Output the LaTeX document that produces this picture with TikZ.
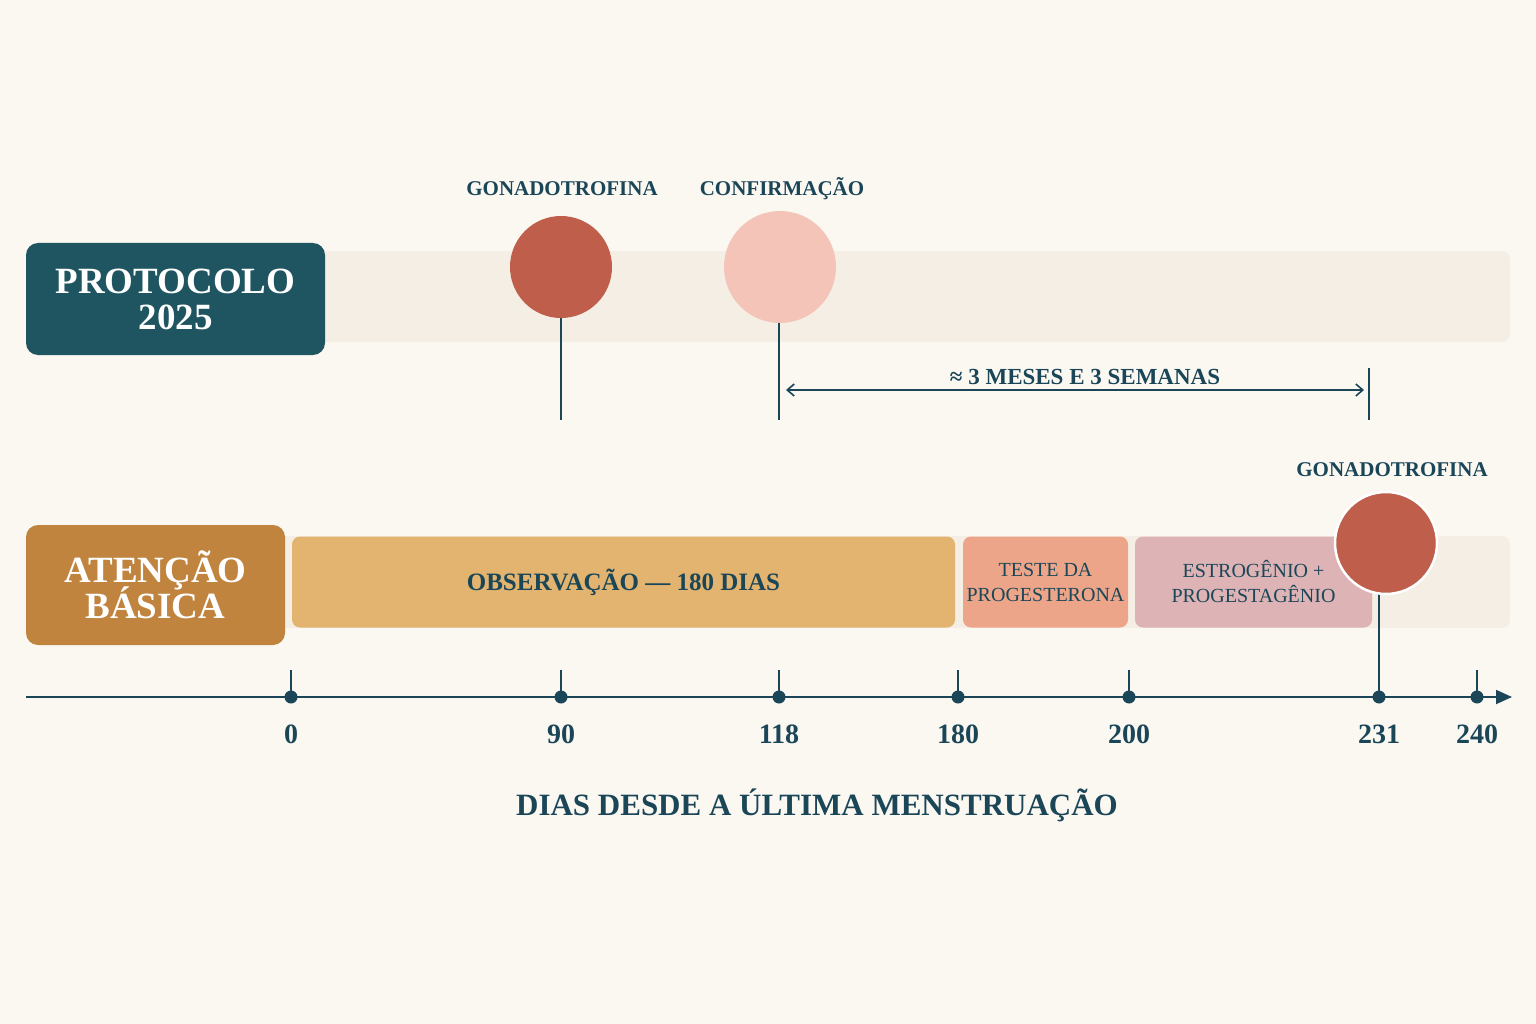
\documentclass[tikz,border=0pt]{standalone}
\usepackage{fontspec}
\setmainfont{Liberation Serif}
\usetikzlibrary{arrows.meta}
\definecolor{bg}{HTML}{FBF8F2}
\definecolor{band}{HTML}{F4EEE4}
\definecolor{teal}{HTML}{1F5560}
\definecolor{ink}{HTML}{1A4658}
\definecolor{brick}{HTML}{BE5E4B}
\definecolor{pinkc}{HTML}{F4C4B8}
\definecolor{ochre}{HTML}{C0843E}
\definecolor{obs}{HTML}{E3B470}
\definecolor{salmon}{HTML}{EDA589}
\definecolor{rose}{HTML}{DDB3B5}
\begin{document}
\begin{tikzpicture}[x=1pt,y=-1pt,
  lbl/.style={text=ink,font=\bfseries\fontsize{21}{24}\selectfont},
  tick/.style={text=ink,font=\bfseries\fontsize{28}{30}\selectfont},
  title/.style={rounded corners=12pt,text=white,align=center,font=\bfseries\fontsize{37}{40}\selectfont},
  seg/.style={rounded corners=8pt,align=center,text=ink},
  ln/.style={draw=ink,line width=1.8pt},
  dot/.style={circle,fill=ink,inner sep=0pt,minimum size=13pt}]
\fill[bg] (0,0) rectangle (1536,1024);
\useasboundingbox (0,0) rectangle (1536,1024);
% top band
\fill[band,rounded corners=8pt] (300,251) rectangle (1510,342);
\node[title,fill=teal,minimum width=299pt,minimum height=112pt] (prot) at (175.5,299) {PROTOCOLO\\[-4pt]2025};
% circles top
\draw[ln] (561,300) -- (561,420) coordinate (s1);
\node[circle,fill=brick,minimum size=102pt] (g1) at (561,267) {};
\node[lbl] (lg1) at (562,189) {GONADOTROFINA};
\draw[ln] (779,300) -- (779,420) coordinate (s2);
\node[circle,fill=pinkc,minimum size=112pt] (c1) at (780,267) {};
\node[lbl] (lc1) at (782,189) {CONFIRMAÇÃO};
\coordinate (e1) at (1369,368); \coordinate (e2) at (1369,420);
\draw[ln] (e1) -- (e2);
\coordinate (a1) at (786,390); \coordinate (a2) at (1364,390);
\draw[draw=ink,line width=1.6pt,{Straight Barb[length=7pt,width=12pt]}-{Straight Barb[length=7pt,width=12pt]}] (a1) -- (a2);
\node[lbl,font=\bfseries\fontsize{23}{26}\selectfont] (dur) at (1085,377) {≈ 3 MESES E 3 SEMANAS};
% bottom band
\fill[band,rounded corners=8pt] (270,536) rectangle (1510,628);
\node[title,fill=ochre,minimum width=259pt,minimum height=120pt] (aten) at (155.5,585) {ATENÇÃO\\[-4pt]BÁSICA};
\node[seg,fill=obs,minimum width=663pt,minimum height=91pt,font=\bfseries\fontsize{25}{28}\selectfont] (obsv) at (623.5,582) {OBSERVAÇÃO — 180 DIAS};
\node[seg,fill=salmon,minimum width=165pt,minimum height=91pt,font=\fontsize{20}{25}\selectfont] (teste) at (1045.5,582) {TESTE DA\\PROGESTERONA};
\node[seg,fill=rose,minimum width=237pt,minimum height=91pt,font=\fontsize{20}{25}\selectfont] (estr) at (1253.5,582) {ESTROGÊNIO +\\PROGESTAGÊNIO};
% axis
\coordinate (ax0) at (26,697); \coordinate (ax1) at (1512,697);
\draw[ln,-{Triangle[length=16pt,width=14pt]}] (ax0) -- (ax1);
\draw[ln] (1379,590) -- (1379,697);
\node[circle,fill=brick,draw=white,line width=2.5pt,minimum size=102pt] (g2) at (1386,543) {};
\node[lbl] (lg2) at (1392,470) {GONADOTROFINA};
\foreach \x/\t [count=\i] in {291/0,561/90,779/118,958/180,1129/200,1379/231,1477/240}{
  \draw[ln] (\x,670) -- (\x,697);
  \node[dot] (d\i) at (\x,697) {};
  \node[tick] (t\i) at (\x,734) {\t};
}
\node[text=ink,font=\bfseries\fontsize{31}{34}\selectfont] (axt) at (817,805) {DIAS DESDE A ÚLTIMA MENSTRUAÇÃO};
\end{tikzpicture}
\end{document}
